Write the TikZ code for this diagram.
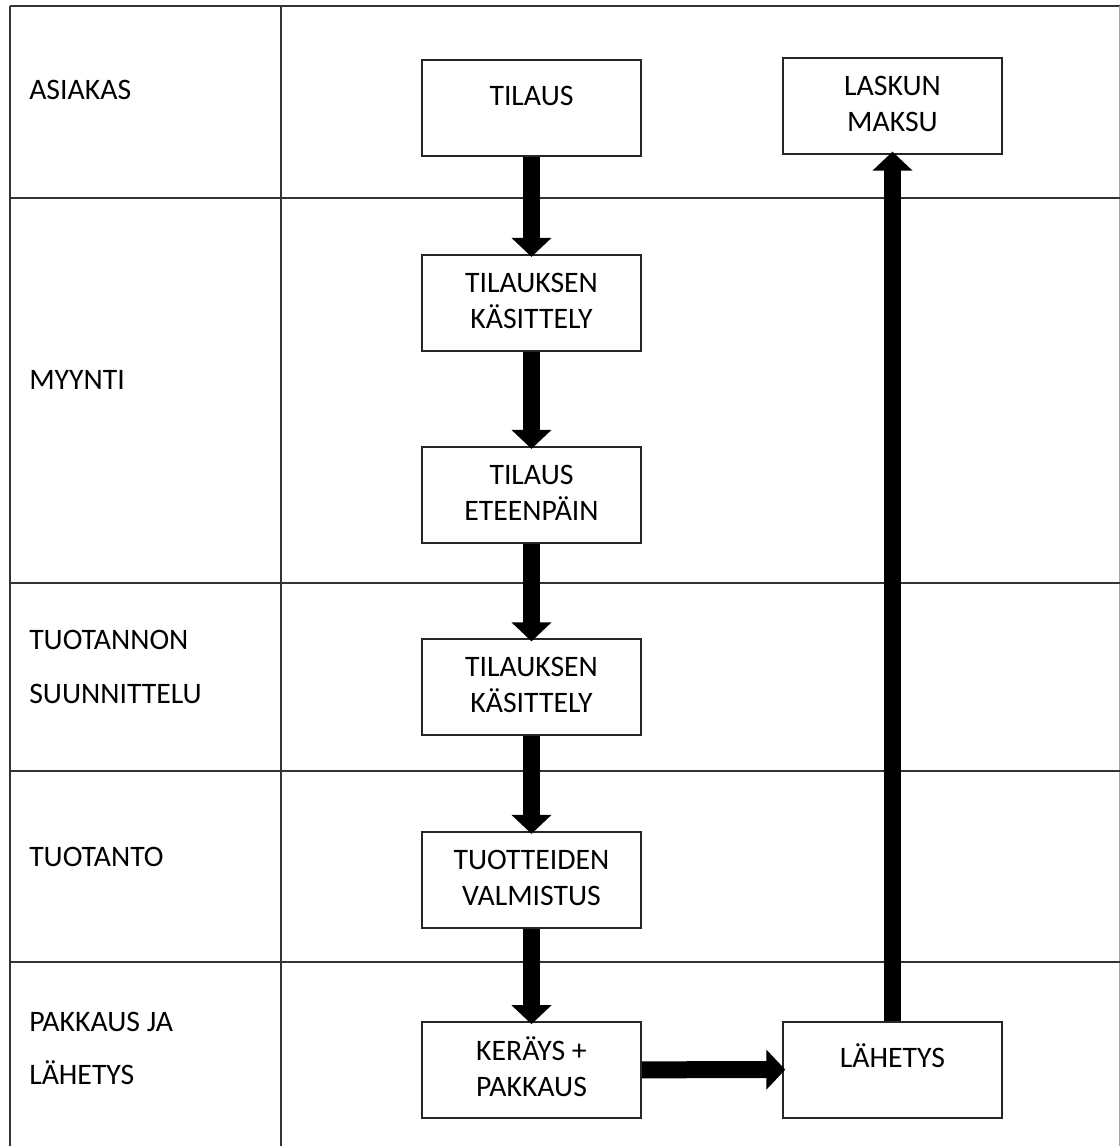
\documentclass[tikz,border=0pt]{standalone}
\usepackage{fontspec}
\setmainfont{Carlito}
\usetikzlibrary{arrows.meta}

% text of one process box: fixed-size frame, lines hung from the top edge
\newcommand{\boxtext}[2]{\parbox[c][72pt][t]{164.25pt}{\centering\vspace*{#1}\strut#2}}
\newcommand{\chartfont}{\fontsize{22.3pt}{27pt}\selectfont}

\begin{document}
\begin{tikzpicture}[x=0.75pt,y=-0.75pt,
  grid/.style={draw=black!80, line width=1.5pt},
  stepbox/.style={draw=black!85, line width=1.5pt, fill=white, inner sep=0pt,
                  font=\chartfont, text=black},
  lane/.style={anchor=base west, inner sep=0pt, font=\chartfont, text=black},
  flow/.style={draw=black, line width=12.75pt,
               -{Triangle[width=29.25pt,length=14.25pt]}, shorten >=-2.5pt}]

\useasboundingbox (0,0) rectangle (1120,1146);
\clip (0,0) rectangle (1120,1146);
\fill[white] (0,0) rectangle (1120,1146);

% swimlane table
\draw[grid] (10,6) -- (1120,6);
\draw[grid] (10,6) -- (10,1160);
\draw[grid] (280.5,6) -- (280.5,1160);
\draw[draw=black!35, line width=1pt] (1119.5,6) -- (1119.5,1160);
\draw[grid] (10,197.5) -- (1120,197.5);
\draw[grid] (10,583) -- (1120,583);
\draw[grid] (10,771) -- (1120,771);
\draw[grid] (10,961.5) -- (1120,961.5);

% lane titles
\node[lane] (lAsiakas) at (29,99) {ASIAKAS};
\node[lane] (lMyynti) at (29,389) {MYYNTI};
\node[lane] (lSuunA) at (29,649.5) {TUOTANNON};
\node[lane] (lSuunB) at (29,703.5) {SUUNNITTELU};
\node[lane] (lTuotanto) at (29,866) {TUOTANTO};
\node[lane] (lPakA) at (29,1031) {PAKKAUS JA};
\node[lane] (lPakB) at (29,1084.5) {LÄHETYS};

% process steps
\node[stepbox] (tilaus) at (531.5,108) {\boxtext{15.3pt}{TILAUS}};
\node[stepbox] (kasittely) at (531.5,302.5) {\boxtext{9.4pt}{TILAUKSEN\\KÄSITTELY}};
\node[stepbox] (eteenpain) at (531.5,494.5) {\boxtext{9.4pt}{TILAUS\\ETEENPÄIN}};
\node[stepbox] (suunnittelu) at (531.5,687) {\boxtext{9.4pt}{TILAUKSEN\\KÄSITTELY}};
\node[stepbox] (valmistus) at (531.5,879.5) {\boxtext{9.4pt}{TUOTTEIDEN\\VALMISTUS}};
\node[stepbox] (keraily) at (531.5,1069.8) {\boxtext{10.1pt}{KERÄYS +\\PAKKAUS}};
\node[stepbox] (lahetys) at (892.5,1069.6) {\boxtext{15.3pt}{LÄHETYS}};
\node[stepbox] (maksu) at (892.5,106) {\boxtext{9.4pt}{LASKUN\\MAKSU}};

% flow arrows
\draw[flow] (tilaus.south) -- (kasittely.north);
\draw[flow] (kasittely.south) -- (eteenpain.north);
\draw[flow] (eteenpain.south) -- (suunnittelu.north);
\draw[flow] (suunnittelu.south) -- (valmistus.north);
\draw[flow] (valmistus.south) -- (keraily.north);
\draw[flow] (keraily.east) -- (lahetys.west);
\draw[flow] (lahetys.north) -- (maksu.south);
\end{tikzpicture}
\end{document}
